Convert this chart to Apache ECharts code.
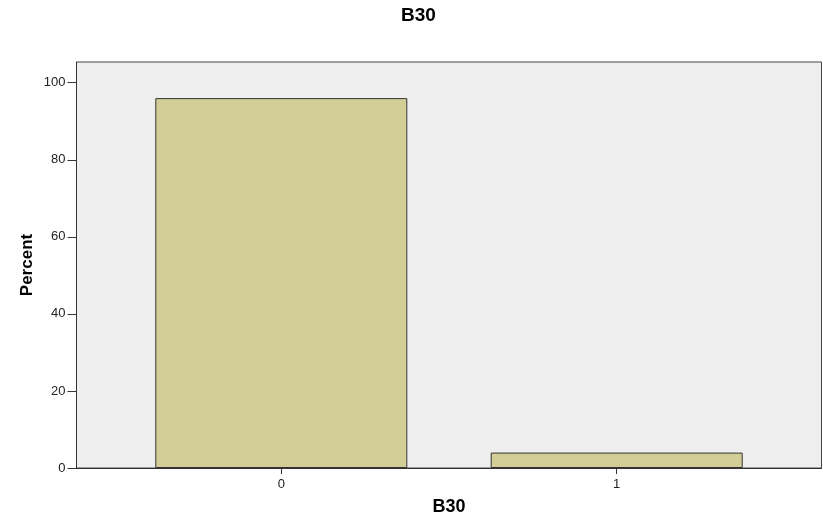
<!DOCTYPE html>
<html>
<head>
<meta charset="utf-8">
<script src="https://cdn.jsdelivr.net/npm/echarts@6/dist/echarts.min.js"></script>
<style>
html,body{margin:0;padding:0;background:#fff;}
#chart{width:823px;height:514px;}
</style>
</head>
<body>
<div id="chart"></div>
<script>
const categories = ['0', '1'];
const percentValues = [96.0, 4.0];
const chartTitle = 'B30';
const xAxisName = 'B30';
const yAxisName = 'Percent';

const FONT = '"Liberation Sans", Arial, sans-serif';
const chart = echarts.init(document.getElementById('chart'));

chart.setOption({
  animation: false,
  backgroundColor: '#ffffff',
  title: {
    text: chartTitle,
    left: 396,
    top: 1,
    textStyle: { fontFamily: FONT, fontSize: 19, fontWeight: 'bold', color: '#000' }
  },
  grid: [
    { // frame / plot background
      left: 76.5, right: 1.5, top: 62, bottom: 46,
      show: true,
      backgroundColor: '#eeeeee',
      borderColor: '#444444',
      borderWidth: 1,
      outerBoundsMode: 'none'
    },
    { // data area (0..100 on y, category bands)
      left: 113.6, right: 38.6, top: 82.7, bottom: 46,
      outerBoundsMode: 'none'
    }
  ],
  xAxis: [
    {
      gridIndex: 0, type: 'value', min: 0, max: 1, show: true,
      name: xAxisName,
      nameLocation: 'middle',
      nameGap: 30,
      nameTextStyle: { fontFamily: FONT, fontSize: 18, fontWeight: 'bold', color: '#000' },
      axisLine: { show: true, lineStyle: { color: '#333', width: 1 } },
      axisTick: { show: false }, axisLabel: { show: false }, splitLine: { show: false }
    },
    {
      gridIndex: 1, type: 'category', data: categories,
      boundaryGap: true,
      axisLine: { show: false },
      axisTick: { show: true, alignWithLabel: true, length: 6, lineStyle: { color: '#333' } },
      axisLabel: { fontFamily: FONT, fontSize: 13, color: '#222', margin: 10 },
      splitLine: { show: false }
    }
  ],
  yAxis: [
    {
      gridIndex: 0, type: 'value', min: 0, max: 1,
      name: yAxisName,
      nameLocation: 'middle',
      nameGap: 41,
      nameRotate: 90,
      nameTextStyle: { fontFamily: FONT, fontSize: 17, fontWeight: 'bold', color: '#000' },
      axisLine: { show: true, lineStyle: { color: '#333', width: 1 } },
      axisTick: { show: false }, axisLabel: { show: false }, splitLine: { show: false }
    },
    {
      gridIndex: 1, type: 'value', min: 0, max: 100, interval: 20,
      offset: 37.1,
      axisLine: { show: false },
      axisTick: { show: true, length: 9, lineStyle: { color: '#333' } },
      axisLabel: { fontFamily: FONT, fontSize: 13, color: '#222', margin: 11 },
      splitLine: { show: false }
    }
  ],
  series: [{
    type: 'bar',
    xAxisIndex: 1,
    yAxisIndex: 1,
    data: percentValues,
    barWidth: 252,
    itemStyle: { color: '#d3ce98', borderColor: '#333333', borderWidth: 1 }
  }]
});
</script>
</body>
</html>
